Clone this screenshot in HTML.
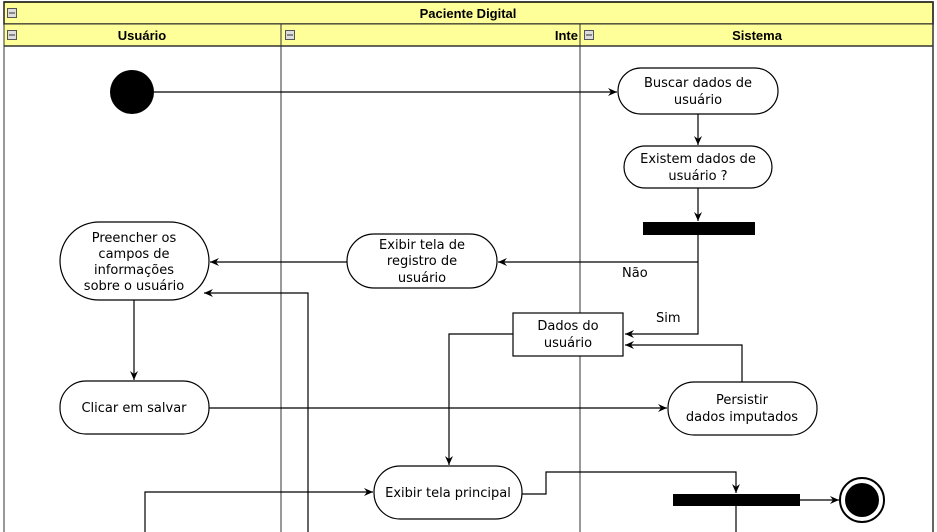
<!DOCTYPE html>
<html><head><meta charset="utf-8"><style>
html,body{margin:0;padding:0;background:#fff;}
svg{display:block;}
text{font-family:"DejaVu Sans","Liberation Sans",sans-serif;font-size:13px;fill:#000;}
.h{font-family:"Liberation Sans",sans-serif;font-weight:bold;font-size:13px;}
</style></head><body>
<svg width="937" height="532" viewBox="0 0 937 532" xmlns="http://www.w3.org/2000/svg">
<defs><marker id="a" markerWidth="10" markerHeight="10" refX="9" refY="5" orient="auto" markerUnits="userSpaceOnUse"><path d="M0,1 L9,5 L0,9 L3,5 Z" fill="#000"/></marker></defs>
<rect x="0" y="0" width="937" height="532" fill="#fff"/>
<rect x="4" y="2" width="929" height="22" fill="#ffff99" stroke="#000" stroke-width="1.5"/>
<rect x="4" y="24" width="929" height="22" fill="#ffff99" stroke="#333" stroke-width="1"/>
<line x1="4" y1="46" x2="933" y2="46" stroke="#333" stroke-width="1.5"/>
<line x1="4" y1="2" x2="4" y2="532" stroke="#333"/>
<line x1="933" y1="2" x2="933" y2="532" stroke="#333" stroke-width="1.5"/>
<line x1="281" y1="24" x2="281" y2="532" stroke="#333"/>
<line x1="580" y1="24" x2="580" y2="532" stroke="#333"/>
<g fill="#ddd" stroke="#555" stroke-width="1">
<rect x="7.5" y="8.5" width="9" height="9"/><rect x="7.5" y="30.5" width="9" height="9"/><rect x="285.5" y="30.5" width="9" height="9"/><rect x="584.5" y="30.5" width="9" height="9"/></g>
<g stroke="#333"><line x1="9" y1="13" x2="15" y2="13"/><line x1="9" y1="35" x2="15" y2="35"/><line x1="287" y1="35" x2="293" y2="35"/><line x1="586" y1="35" x2="592" y2="35"/></g>
<text class="h" x="468" y="18" text-anchor="middle">Paciente Digital</text>
<text class="h" x="142" y="40" text-anchor="middle">Usuário</text>
<text class="h" x="578" y="40" text-anchor="end">Inte</text>
<text class="h" x="757" y="40" text-anchor="middle">Sistema</text>

<g stroke="#000" stroke-width="1.2" fill="none">
<line x1="154" y1="92" x2="617" y2="92" marker-end="url(#a)"/>
<line x1="698" y1="114" x2="698" y2="145" marker-end="url(#a)"/>
<line x1="698" y1="188" x2="698" y2="221" marker-end="url(#a)"/>
<polyline points="698,235 698,334 625,334" marker-end="url(#a)"/>
<line x1="698" y1="262" x2="498" y2="262" marker-end="url(#a)"/>
<line x1="347" y1="262" x2="210" y2="262" marker-end="url(#a)"/>
<polyline points="308,532 308,293 204,293" marker-end="url(#a)"/>
<line x1="134" y1="300" x2="134" y2="380" marker-end="url(#a)"/>
<line x1="209" y1="408" x2="667" y2="408" marker-end="url(#a)"/>
<polyline points="742,382 742,345 625,345" marker-end="url(#a)"/>
<polyline points="513,334 449,334 449,465" marker-end="url(#a)"/>
<polyline points="145,532 145,492 373,492" marker-end="url(#a)"/>
<polyline points="522,494 546,494 546,472 736,472 736,493" marker-end="url(#a)"/>
<line x1="736" y1="505" x2="736" y2="532"/>
<line x1="800" y1="500" x2="839" y2="500" marker-end="url(#a)"/>
</g>

<circle cx="132" cy="92" r="22" fill="#000"/>
<g fill="#fff" stroke="#000" stroke-width="1.2">
<rect x="618" y="68" width="160" height="46" rx="23"/>
<rect x="624" y="146" width="148" height="42" rx="21"/>
<rect x="347" y="234" width="150" height="54" rx="27"/>
<rect x="60" y="222" width="149" height="78" rx="39"/>
<rect x="60" y="381" width="149" height="53" rx="26"/>
<rect x="668" y="382" width="149" height="53" rx="26"/>
<rect x="513" y="313" width="110" height="43" rx="0"/>
<rect x="374" y="466" width="148" height="53" rx="26"/>
</g>
<rect x="643" y="222" width="112" height="13" fill="#000"/>
<rect x="673" y="494" width="127" height="12" fill="#000"/>
<circle cx="862" cy="500" r="22" fill="#fff" stroke="#000" stroke-width="2"/>
<circle cx="862" cy="500" r="17" fill="#000"/>

<g text-anchor="middle">
<text x="698" y="87">Buscar dados de</text><text x="698" y="104">usuário</text>
<text x="698" y="163">Existem dados de</text><text x="698" y="180">usuário ?</text>
<text x="422" y="249">Exibir tela de</text><text x="422" y="265">registro de</text><text x="422" y="282">usuário</text>
<text x="134" y="242">Preencher os</text><text x="134" y="258">campos de</text><text x="134" y="274">informações</text><text x="134" y="290">sobre o usuário</text>
<text x="134" y="412">Clicar em salvar</text>
<text x="742" y="404">Persistir</text><text x="742" y="421">dados imputados</text>
<text x="568" y="330">Dados do</text><text x="568" y="347">usuário</text>
<text x="448" y="497">Exibir tela principal</text>
</g>
<text x="622" y="277">Não</text>
<text x="656" y="322">Sim</text>
</svg>
</body></html>
